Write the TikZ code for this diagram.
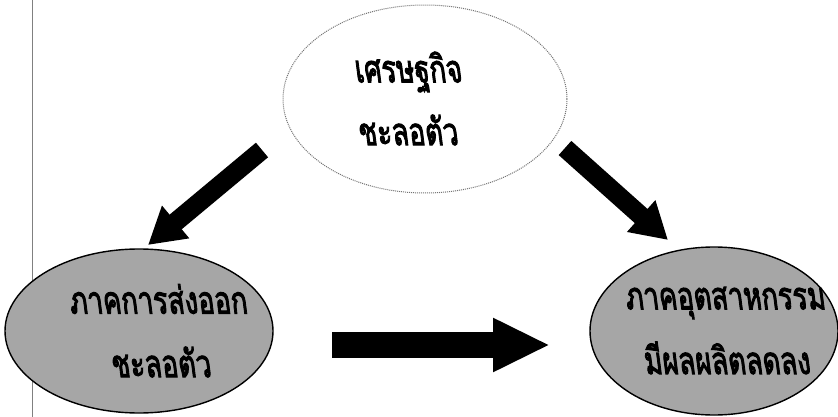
\documentclass[tikz,border=0pt]{standalone}
\usepackage{fontspec}
\newfontfamily\thaifont[Script=Thai,FakeBold=3,FakeSlant=-0.18]{Loma}
\usetikzlibrary{arrows.meta,shapes.geometric}
\tikzset{
  bubble/.style={ellipse, draw=black, line width=1.4pt, fill=black!35, inner sep=0pt},
  topbubble/.style={ellipse, draw=black!55, densely dotted, line width=1pt, fill=white, inner sep=0pt},
  thaitext/.style={font=\thaifont\fontsize{38}{44}\selectfont, inner sep=0pt},
  diagarrow/.style={line width=19pt, -{Triangle[length=36pt,width=40pt]}},
  flatarrow/.style={line width=26pt, -{Triangle[length=57pt,width=50pt]}}
}
\newcommand{\thline}[1]{\scalebox{0.72}[1]{#1}}
\begin{document}
\begin{tikzpicture}[x=1pt,y=-1pt]
\useasboundingbox (0,0) rectangle (838,417);
\draw[black!50, line width=1pt] (32,0) -- (32,417);
% ellipses
\node[topbubble, minimum width=284pt, minimum height=188pt] (top) at (425,99) {};
\node[bubble, minimum width=268pt, minimum height=164pt] (left) at (139,331) {};
\node[bubble, minimum width=248pt, minimum height=168pt] (right) at (714,331) {};
% texts
\node[thaitext] (t1) at (410,72) {\thline{เศรษฐกิจ}};
\node[thaitext] (t2) at (410,130) {\thline{ชะลอตัว}};
\node[thaitext] (l1) at (160,299) {\thline{ภาคการส่งออก}};
\node[thaitext] (l2) at (163,362) {\thline{ชะลอตัว}};
\node[thaitext] (r1) at (727,303) {\thline{ภาคอุตสาหกรรม}};
\node[thaitext] (r2) at (729,358) {\thline{มีผลผลิตลดลง}};
% arrows
\coordinate (lt) at (262,150);
\coordinate (lh) at (148,245);
\coordinate (rt) at (565,148);
\coordinate (rh) at (668,240);
\coordinate (bt) at (332,345);
\coordinate (bh) at (550,345);
\draw[diagarrow] (lt) -- (lh);
\draw[diagarrow] (rt) -- (rh);
\draw[flatarrow] (bt) -- (bh);
\end{tikzpicture}
\end{document}
